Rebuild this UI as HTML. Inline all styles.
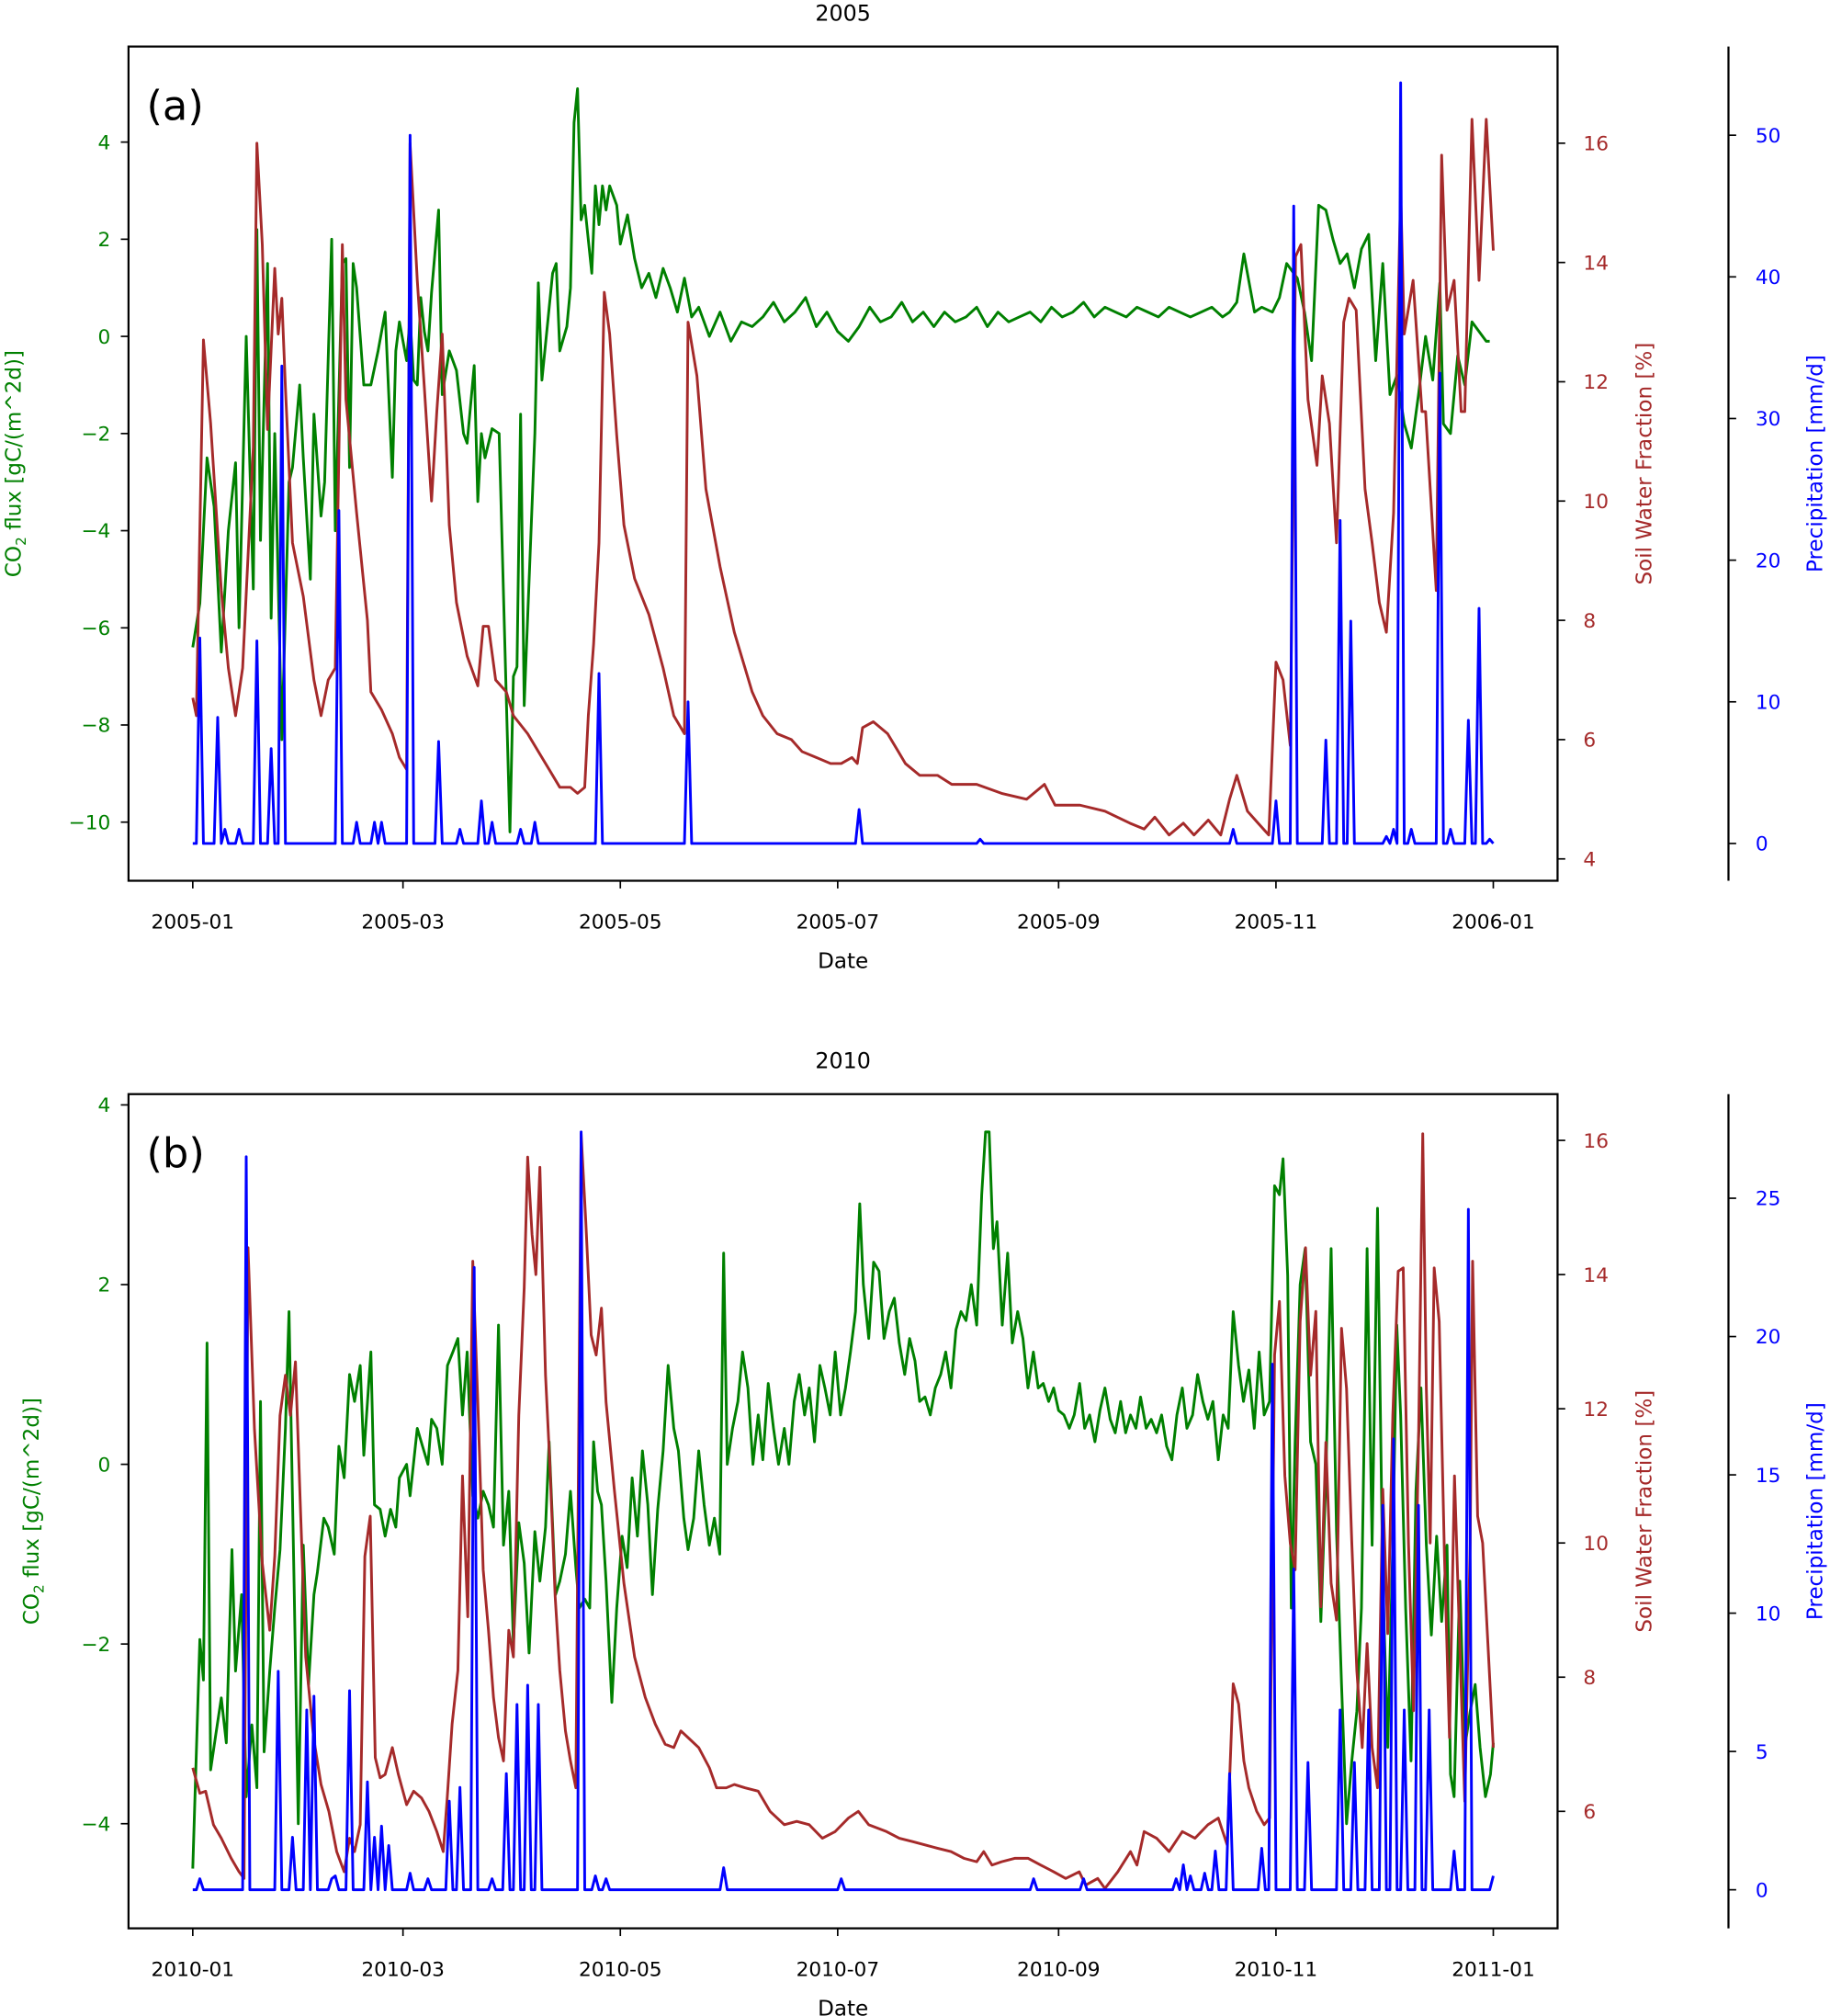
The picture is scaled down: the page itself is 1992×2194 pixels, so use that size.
<!DOCTYPE html>
<html><head><meta charset="utf-8"><style>
html,body{margin:0;padding:0;background:#fff}
svg{display:block}
text{font-family:"DejaVu Sans","Liberation Sans",sans-serif}
</style></head><body>
<svg id="chart" width="1992" height="2194" viewBox="0 0 1424 1568" xmlns="http://www.w3.org/2000/svg"></svg>
<script>
// ---------- Panel (a) 2005 ----------
const xTickLabelsA=["2005-01","2005-03","2005-05","2005-07","2005-09","2005-11","2006-01"];
const xTickLabelsB=["2010-01","2010-03","2010-05","2010-07","2010-09","2010-11","2011-01"];
const xTickDays=[0,59,120,181,243,304,365];
const co2TicksA=[-10,-8,-6,-4,-2,0,2,4];
const swfTicksA=[4,6,8,10,12,14,16];
const prTicksA=[0,10,20,30,40,50];
const co2TicksB=[-4,-2,0,2,4];
const swfTicksB=[6,8,10,12,14,16];
const prTicksB=[0,5,10,15,20,25];

const co2DaysA=[0,2,4,6,8,10,12,13,15,17,18,19,21,22,23,25,27,28,30,31,33,34,36,37,39,40,42,43,44,45,46,48,50,52,54,56,57,58,60,61,62,63,64,65,66,67,69,70,72,74,76,77,79,80,81,82,84,86,89,90,91,92,93,96,97,98,101,102,103,105,106,107,108,109,110,112,113,114,115,116,117,119,120,122,124,126,128,130,132,134,136,138,140,142,145,148,151,154,157,160,163,166,169,172,175,178,181,184,187,190,193,196,199,202,205,208,211,214,217,220,223,226,229,232,235,238,241,244,247,250,253,256,259,262,265,268,271,274,277,280,283,286,289,291,293,295,298,300,303,305,307,310,312,314,316,318,320,322,324,326,328,330,332,334,336,338,340,342,344,346,348,350,351,353,355,357,359,361,363,364];
const co2ValsA=[-6.4,-5.5,-2.5,-3.5,-6.5,-4,-2.6,-6,0,-5.2,2.2,-4.2,1.5,-5.8,-2,-8.3,-3,-2.7,-1,-2.5,-5,-1.6,-3.7,-3,2,-4,1.5,1.6,-2.7,1.5,1,-1,-1,-0.3,0.5,-2.9,-0.3,0.3,-0.5,0.4,-0.9,-1,0.8,0.1,-0.3,0.9,2.6,-1.2,-0.3,-0.7,-2,-2.2,-0.6,-3.4,-2,-2.5,-1.9,-2,-10.2,-7,-6.8,-1.6,-7.6,-2,1.1,-0.9,1.3,1.5,-0.3,0.2,1,4.4,5.1,2.4,2.7,1.3,3.1,2.3,3.1,2.6,3.1,2.7,1.9,2.5,1.6,1,1.3,0.8,1.4,1,0.5,1.2,0.4,0.6,0,0.5,-0.1,0.3,0.2,0.4,0.7,0.3,0.5,0.8,0.2,0.5,0.1,-0.1,0.2,0.6,0.3,0.4,0.7,0.3,0.5,0.2,0.5,0.3,0.4,0.6,0.2,0.5,0.3,0.4,0.5,0.3,0.6,0.4,0.5,0.7,0.4,0.6,0.5,0.4,0.6,0.5,0.4,0.6,0.5,0.4,0.5,0.6,0.4,0.5,0.7,1.7,0.5,0.6,0.5,0.8,1.5,1.2,0.5,-0.5,2.7,2.6,2,1.5,1.7,1,1.8,2.1,-0.5,1.5,-1.2,-0.8,-1.8,-2.3,-1.2,0,-0.9,1.1,-1.8,-2,-0.4,-1,0.3,0.1,-0.1,-0.1,-0.4];

const swfDaysA=[0,1,3,5,8,10,12,14,17,18,19.5,21,23,24,25,26,28,31,34,36,38,40,42,43,46,49,50,53,56,58,60,61,63,65,67,68.5,70,72,74,77,80,81.5,83,85,88,90,94,97,100,103,106,108,110,111,112.5,114,115.5,117,119,121,124,128,132,135,138,139,141.5,144,148,152,157,160,164,168,171,175,179,182,185,186.5,188,191,195,198,200,204,209,213,220,227,234,239,242,249,256,263,267,270,274,278,281,285,288.5,291,293,296,299,302,304,306,308,309.5,311,313,315.5,317,319,321,323,324.5,326.5,329,331,333,335,337,339,340,342.5,345,346,347.5,349,350.5,352,354,356,357,359,361,363,365];
const swfValsA=[6.7,6.4,12.7,11.3,8.5,7.2,6.4,7.2,10.9,16,14.3,11.2,13.9,12.8,13.4,11.9,9.3,8.4,7,6.4,7,7.2,14.3,11.7,9.8,8,6.8,6.5,6.1,5.7,5.5,16,13.7,11.9,10,11.5,12.8,9.6,8.3,7.4,6.9,7.9,7.9,7,6.8,6.4,6.1,5.8,5.5,5.2,5.2,5.1,5.2,6.4,7.6,9.3,13.5,12.8,11.1,9.6,8.7,8.1,7.2,6.4,6.1,13,12.1,10.2,8.9,7.8,6.8,6.4,6.1,6,5.8,5.7,5.6,5.6,5.7,5.6,6.2,6.3,6.1,5.8,5.6,5.4,5.4,5.25,5.25,5.1,5,5.25,4.9,4.9,4.8,4.6,4.5,4.7,4.4,4.6,4.4,4.65,4.4,5,5.4,4.8,4.6,4.4,7.3,7,5.9,14.1,14.3,11.7,10.6,12.1,11.3,9.3,13,13.4,13.2,10.2,9.3,8.3,7.8,9.8,15.2,12.8,13.7,11.5,11.5,10,8.5,15.8,13.2,13.7,11.5,11.5,16.4,13.7,16.4,14.2];

const prDaysA=[2,7,9,13,18,22,25,41,46,51,53,61,69,75,81,84,92,96,114,139,187,221,292,304,309,318,322,325,335,337,339,342,350,353,358,361,364];
const prValsA=[14.5,8.9,1,1,14.3,6.7,33.7,23.5,1.5,1.5,1.5,50,7.2,1,3,1.5,1,1.5,12,10,2.4,0.3,1,3,45,7.3,22.8,15.7,0.5,1,53.7,1,33.2,1,8.7,16.6,0.3];

// ---------- Panel (b) 2010 ----------
const co2DaysB=[0,2,3,4,5,6.5,8,9.4,11,12,13.7,15,16.6,18,19,20,21.6,23,24.5,26,27,28.5,29.6,31,32.5,34,35,36.8,38,39.7,41,42.5,44,45.4,47,48,50,51,52.6,54,55.5,57,58,60,61,63,64.5,66,67,68.5,70,71.5,73,74.4,75.7,77,78.6,80,81.5,83,84.4,85.8,87.2,88.7,90,91.5,93,94.4,96,97.4,99,100,101.8,103,104.6,106,107.5,108.5,110,111.4,112.5,113.6,114.7,116,117.6,119,120.5,121.9,123.3,124.8,126.2,127.7,129,130.5,132,133.4,135,136.3,137.8,139,140.6,142,143.5,145,146.4,147.9,149,150,151.5,153,154.3,155.8,157.2,158.7,160,161.5,163,164.4,166,167.3,168.8,170.2,171.7,173,174.5,176,177.4,178.9,180.3,181.8,183.2,184.6,186,187.2,188.2,189.7,191.1,192.6,194,195.5,196.9,198.3,199.8,201.2,202.7,204,205.5,207,208.4,209.9,211.3,212.8,214.2,215.6,217,218.5,220,221.4,222.5,223.5,224.7,225.7,227.2,228.7,230,231.5,233,234.4,235.9,237.3,238.7,240.2,241.6,243,244.5,246,247.4,248.9,250.3,251.7,253.2,254.6,256,257.5,258.9,260.4,261.8,263.2,264.7,266,267.6,269,270.5,271.9,273.3,274.8,276.2,277.7,279,280.6,282,283.5,284.9,286.3,287.8,289.2,290.6,292,293.5,294.9,296.4,297.9,299.3,300.7,302.2,303.6,305,306,307.3,308.3,309.4,310.8,312.2,313.7,315.2,316.6,318,319.5,321,322.4,323.8,325.3,326.7,328,329.6,331,332.5,334,335.4,336.8,337.9,339,340.4,341.9,343.3,344.7,346.2,347.6,349.1,350.5,352,353,354,355.6,357,358.5,359.9,361.3,362.8,364.2,365];
const co2ValsB=[-4.5,-1.95,-2.4,1.35,-3.4,-3,-2.6,-3.1,-0.95,-2.3,-1.45,-3.7,-2.9,-3.6,0.7,-3.2,-2.3,-1.6,-0.95,0.4,1.7,-1.45,-4,-0.9,-2.45,-1.45,-1.2,-0.6,-0.7,-1,0.2,-0.15,1,0.7,1.1,0.1,1.25,-0.45,-0.5,-0.8,-0.5,-0.7,-0.15,0,-0.35,0.4,0.2,0,0.5,0.4,0,1.1,1.25,1.4,0.55,1.25,-0.35,-0.6,-0.3,-0.45,-0.7,1.55,-0.9,-0.3,-2,-0.65,-1.1,-2.1,-0.75,-1.3,-0.7,0.25,-1.45,-1.3,-1,-0.3,-1.15,-1.6,-1.5,-1.6,0.25,-0.3,-0.45,-1.3,-2.65,-1.6,-0.8,-1.15,-0.15,-0.8,0.15,-0.45,-1.45,-0.5,0.15,1.1,0.4,0.15,-0.6,-0.95,-0.6,0.15,-0.45,-0.9,-0.6,-1,2.35,0,0.4,0.7,1.25,0.85,0,0.55,0.05,0.9,0.4,0,0.4,0,0.7,1,0.55,0.85,0.25,1.1,0.85,0.55,1.25,0.55,0.85,1.25,1.7,2.9,2,1.4,2.25,2.15,1.4,1.7,1.85,1.35,1,1.4,1.15,0.7,0.75,0.55,0.85,1,1.25,0.85,1.5,1.7,1.6,2,1.55,3,3.7,3.7,2.4,2.7,1.55,2.35,1.35,1.7,1.4,0.85,1.25,0.85,0.9,0.7,0.85,0.6,0.55,0.4,0.55,0.9,0.4,0.55,0.25,0.6,0.85,0.5,0.35,0.7,0.35,0.55,0.4,0.75,0.4,0.5,0.35,0.55,0.2,0.05,0.55,0.85,0.4,0.55,1,0.7,0.5,0.7,0.05,0.55,0.4,1.7,1.1,0.7,1.05,0.4,1.25,0.55,0.7,3.1,3,3.4,2.1,-1.6,0.25,2,2.4,0.25,0,-1.75,-0.15,2.4,-0.75,-2.45,-4,-3.3,-2.75,-1.6,2.4,-0.9,2.85,-1.3,-3.15,-0.9,1.55,0.55,-1.6,-3.3,-0.3,0.85,-0.9,-1.9,-0.8,-1.75,-0.9,-3.45,-3.7,-1.3,-3.15,-2.75,-2.45,-3.15,-3.7,-3.45,-3.1];

const swfDaysB=[0,2,3.6,5.8,8,10.8,13,14.4,15.5,17.3,19.5,21.6,23,24.5,26,27.4,28.8,30.3,31.7,33.9,36,38.2,40.4,42.5,44,45.4,47,48.3,49.8,51.2,52.6,54,56,57.7,60,62,64.2,66.3,68.5,70.3,71.4,72.8,74.4,75.7,77.2,78.6,80,81.5,83,84.4,85.8,87.2,88.7,90,91.5,93,94,95.2,96.3,97.4,99,100.2,101.7,103,104.6,106,107.5,109,110.3,111.8,113.2,114.7,116,118.3,121,124,127,129.8,132.6,135,137,139,142,145,147,149.7,152,155,158.7,162,166,169.5,173,176.7,180.3,184,186.8,189.7,194.7,198.3,202,205.5,209,212.8,216.4,220,222,224.3,227,230.8,234.4,238,241.6,245,248.8,250.6,254,256,259.6,263.2,265,267,270.5,274,277.7,281.3,284.9,287.8,290.3,292,293.5,295,296.4,298.6,300.7,302.2,303.6,305,306.5,308,309.4,310.8,312.3,313.7,315.2,316.6,318,319.5,321,322.4,323.8,325.3,326.7,328.2,329.6,331,332.5,334,335.4,336.8,338.3,339.7,341.2,342.6,344,345.2,346.2,347.3,348.4,349.8,351.3,352.7,354.1,355.6,357,358.5,359.2,360.6,362,363.5,365];
const swfValsB=[6.65,6.27,6.3,5.8,5.6,5.3,5.1,5,14.4,11.7,9.7,8.7,9.8,11.9,12.5,11.9,12.7,10.4,8.3,7.1,6.4,6,5.4,5.1,5.6,5.4,5.8,9.8,10.4,6.8,6.5,6.55,6.95,6.55,6.1,6.3,6.2,6,5.7,5.4,6.2,7.3,8.1,11,8.9,14.2,12.1,9.6,8.7,7.7,7.1,6.75,8.7,8.3,11.9,13.8,15.75,14.6,14,15.6,12.5,11.2,9.2,8.1,7.2,6.75,6.35,16.1,14.8,13.1,12.8,13.5,12.1,10.8,9.4,8.3,7.7,7.3,7,6.95,7.2,7.1,6.95,6.65,6.35,6.35,6.4,6.35,6.3,6,5.8,5.85,5.8,5.6,5.7,5.9,6,5.8,5.7,5.6,5.55,5.5,5.45,5.4,5.3,5.25,5.4,5.2,5.25,5.3,5.3,5.2,5.1,5,5.1,4.9,5,4.85,5.1,5.4,5.2,5.7,5.6,5.4,5.7,5.6,5.8,5.9,5.5,7.9,7.6,6.75,6.35,6,5.8,5.9,12.8,13.6,11,10,9.6,13.3,14.4,12.5,13.45,9.05,11.5,9.4,8.85,13.2,12.3,10,8.1,6.95,8.5,6.95,6.35,10.8,8.65,11.9,14.05,14.1,10,7.5,11.5,16.1,12.3,10,14.1,13.3,9.8,7.1,11,8.5,6.15,10,14.2,10.4,10,8.5,6.95];

const prDaysB=[2,15,24,28,32,34,39,40,44,49,51,53,55,61,66,72,75,79,84,88,91,94,97,109,113,116,149,182,236,250,276,278,280,284,287,291,300,303,309,313,322,326,330,334,337,340,344,347,354,358,365];
const prValsB=[0.4,26.5,7.9,1.9,6.5,7,0.4,0.5,7.2,3.9,1.9,2.3,1.6,0.6,0.4,3.2,3.7,22.5,0.4,4.2,6.7,7.4,6.7,27.4,0.5,0.4,0.8,0.4,0.4,0.4,0.4,0.9,0.5,0.6,1.4,4.2,1.5,19,11.6,4.6,6.5,4.6,6.5,13.9,16.3,6.5,13.9,6.5,1.4,24.6,0.5];

const NS="http://www.w3.org/2000/svg";
const svg=document.getElementById('chart');
function mk(tag,attrs,parent,text){const e=document.createElementNS(NS,tag);for(const k in attrs)e.setAttribute(k,attrs[k]);if(text!==undefined)e.textContent=text;(parent||svg).appendChild(e);return e;}
const X0=150,X1=1162,L=100,R=1212,SP=1345;
const xS=d=>X0+d*(X1-X0)/365;

function panel(p){
  const g=mk('g',{});
  
  
  const co2Y=v=>p.co2Z-v*p.co2K, swfY=v=>p.swfZ-(v-p.swfB)*p.swfK, prY=v=>p.prZ-v*p.prK;
  // title
  const t=mk('text',{x:656,y:p.top-20,'text-anchor':'middle','font-size':17},g,p.title);
  
  // clip
  const cid='clip'+p.top;
  const cp=mk('clipPath',{id:cid},g);mk('rect',{x:L,y:p.top,width:R-L,height:p.bot-p.top},cp);
  // series
  const path=(days,vals,fy)=>days.map((d,i)=>(i?'L':'M')+xS(d).toFixed(1)+','+fy(vals[i]).toFixed(1)).join('');
  const lg=mk('g',{'clip-path':'url(#'+cid+')'},g);
  const gl=mk('path',{d:path(p.co2D,p.co2V,co2Y),fill:'none',stroke:'#008000','stroke-width':2.1,'stroke-linejoin':'round'},lg);
  
  const bl=mk('path',{d:path(p.swfD,p.swfV,swfY),fill:'none',stroke:'#a52a2a','stroke-width':2.1,'stroke-linejoin':'round'},lg);
  
  // precip daily series: zero except spike days
  const daily=new Array(366).fill(0);
  p.prD.forEach((d,i)=>{daily[Math.min(365,Math.round(d))]=p.prV[i];});
  const pd=[],pv=[];for(let d=0;d<=365;d++){pd.push(d);pv.push(daily[d]);}
  const pl=mk('path',{d:path(pd,pv,prY),fill:'none',stroke:'#0000ff','stroke-width':2.1,'stroke-linejoin':'round'},lg);
  
  // frame
  const fr=mk('rect',{x:L,y:p.top,width:R-L,height:p.bot-p.top,fill:'none',stroke:'#000','stroke-width':1.6},g);
  
  const sp=mk('line',{x1:SP,x2:SP,y1:p.top,y2:p.bot,stroke:'#000','stroke-width':1.6},g);
  
  // x ticks
  xTickDays.forEach((d,i)=>{
    mk('line',{x1:xS(d),x2:xS(d),y1:p.bot,y2:p.bot+6,stroke:'#000','stroke-width':1.2},g);
    const tl=mk('text',{x:xS(d),y:p.bot+37,'text-anchor':'middle','font-size':15.5},g,p.xLab[i]);
    
  });
  const xt=mk('text',{x:656,y:p.bot+68,'text-anchor':'middle','font-size':16.5},g,'Date');
  
  // left ticks
  p.co2T.forEach(v=>{const y=co2Y(v);
    mk('line',{x1:L-6,x2:L,y1:y,y2:y,stroke:'#000','stroke-width':1.2},g);
    const tl=mk('text',{x:L-14,y:y+5.5,'text-anchor':'end','font-size':15.5,fill:'#008000'},g,String(v).replace('-','\u2212'));
    });
  const ly=(p.top+p.bot)/2;
  const lt=mk('text',{transform:`translate(${p.lx},${ly}) rotate(-90)`,'text-anchor':'middle','font-size':16.5,fill:'#008000'},g);
  
  mk('tspan',{},lt,'CO');mk('tspan',{'font-size':11,dy:4},lt,'2');mk('tspan',{dy:-4},lt,' flux [gC/(m^2d)]');
  // swf ticks
  p.swfT.forEach(v=>{const y=swfY(v);
    mk('line',{x1:R,x2:R+6,y1:y,y2:y,stroke:'#000','stroke-width':1.2},g);
    const tl=mk('text',{x:R+20,y:y+5.5,'font-size':15.5,fill:'#a52a2a'},g,String(v));
    });
  const st=mk('text',{transform:`translate(1285,${ly}) rotate(-90)`,'text-anchor':'middle','font-size':16.5,fill:'#a52a2a'},g,'Soil Water Fraction [%]');
  
  // precip ticks
  p.prT.forEach(v=>{const y=prY(v);
    mk('line',{x1:SP,x2:SP+6,y1:y,y2:y,stroke:'#000','stroke-width':1.2},g);
    const tl=mk('text',{x:SP+21,y:y+5.5,'font-size':15.5,fill:'#0000ff'},g,String(v));
    });
  const pt=mk('text',{transform:`translate(1418,${ly}) rotate(-90)`,'text-anchor':'middle','font-size':16.5,fill:'#0000ff'},g,'Precipitation [mm/d]');
  
  const pl2=mk('text',{x:114,y:p.top+57,'font-size':32},g,p.letter);
  
}
panel({name:'panel-a-2005',title:'2005',letter:'(a)',top:36,bot:685,xLab:xTickLabelsA,lx:16,
  co2Z:261.5,co2K:37.79,swfZ:668,swfB:4,swfK:46.4,prZ:656,prK:11.02,
  co2T:co2TicksA,swfT:swfTicksA,prT:prTicksA,co2D:co2DaysA,co2V:co2ValsA,swfD:swfDaysA,swfV:swfValsA,prD:prDaysA,prV:prValsA});
panel({name:'panel-b-2010',title:'2010',letter:'(b)',top:851,bot:1500,xLab:xTickLabelsB,lx:30,
  co2Z:1139,co2K:69.9,swfZ:1409,swfB:6,swfK:52.2,prZ:1470,prK:21.52,
  co2T:co2TicksB,swfT:swfTicksB,prT:prTicksB,co2D:co2DaysB,co2V:co2ValsB,swfD:swfDaysB,swfV:swfValsB,prD:prDaysB,prV:prValsB});
</script>
</body></html>
